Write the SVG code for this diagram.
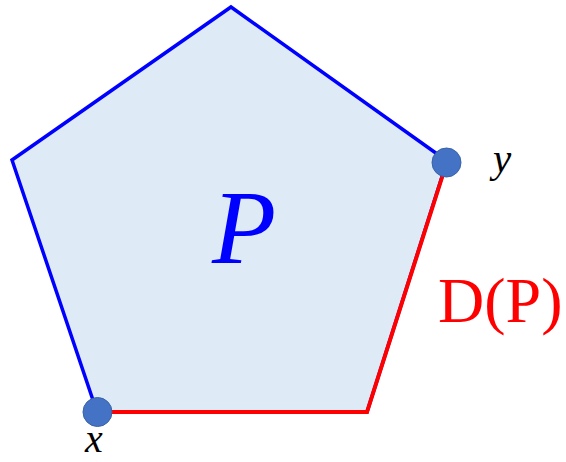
<svg xmlns="http://www.w3.org/2000/svg" width="566" height="462" viewBox="0 0 566 462">
<style>
.poly{fill:#DEEBF7;stroke:#0000FF;stroke-width:3.5;stroke-linejoin:miter}
.red{fill:none;stroke:#FF0000;stroke-width:4}
.dot{fill:#4472C4;stroke:#3A62A8;stroke-width:1}
.it{font-family:"Liberation Serif",serif;font-style:italic}
</style>
<g id="pentagon">
<polygon class="poly" points="231,7 447,161 367,412 97,412 12,160"/>
<text class="it" x="212" y="263" font-size="105" fill="#0000FF">P</text>
</g>
<g id="connectors">
<polyline class="red" points="97,412 367,412 446,165"/>
</g>
<g id="node-x">
<circle class="dot" cx="97.5" cy="412" r="14.5"/>
<text class="it" x="85" y="452" font-size="40" fill="#000">x</text>
</g>
<g id="node-y">
<circle class="dot" cx="446.5" cy="162.5" r="14.5"/>
<text class="it" x="493" y="172" font-size="41" fill="#000">y</text>
</g>
<g id="label-dp">
<text x="438" y="322" font-family="Liberation Serif,serif" font-size="64" fill="#FF0000">D(P)</text>
</g>
</svg>
